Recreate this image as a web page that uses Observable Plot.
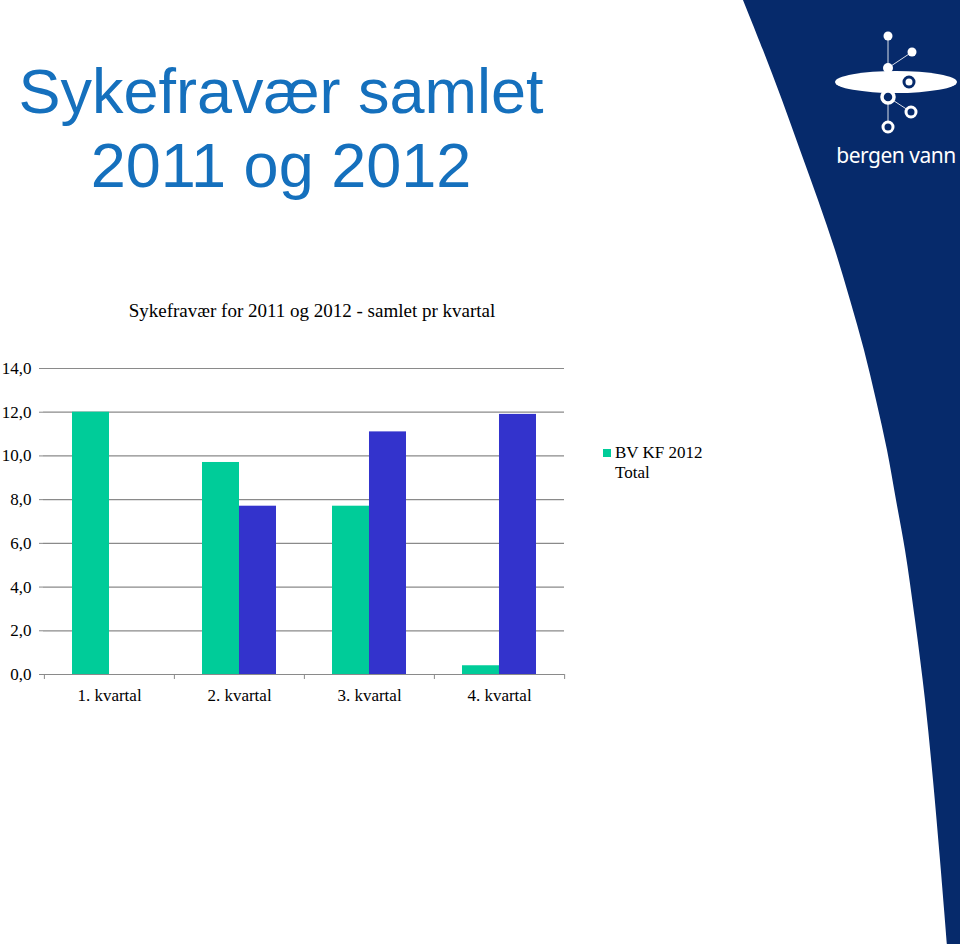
<!DOCTYPE html>
<html>
<head>
<meta charset="utf-8">
<script src="https://cdn.jsdelivr.net/npm/d3@7"></script>
<script src="https://cdn.jsdelivr.net/npm/@observablehq/plot@0.6"></script>
<style>
  html, body { margin: 0; padding: 0; background: #fff; }
  #page { position: relative; width: 960px; height: 944px; overflow: hidden; background: #fff; }
  #deco { position: absolute; left: 0; top: 0; z-index: 0; }
  #slideTitle { position: absolute; left: 0; top: 0; z-index: 2; }
  #chartTitle { position: absolute; left: 0; top: 300px; width: 624px; text-align: center;
    font-family: "Liberation Serif", "Times New Roman", serif; font-size: 19px; color: #000; z-index: 2; }
  #chart { position: absolute; left: 0; top: 320px; z-index: 1; }
  #legend { position: absolute; left: 603px; top: 443px; z-index: 2;
    font-family: "Liberation Serif", "Times New Roman", serif; font-size: 17px; line-height: 20px; color: #000; }
  #legend .sw { display: inline-block; width: 8px; height: 8px; margin-right: 4px; vertical-align: 1px; }
  #legend .l2 { padding-left: 12px; }
</style>
</head>
<body>
<div id="page">
  <svg id="deco" width="960" height="944">
    <path id="navy" fill="#062a6b"/>
    <g stroke="#ffffff" stroke-width="1" opacity="0.85">
      <line x1="888" y1="36" x2="888" y2="127"/>
      <line x1="888" y1="68" x2="912" y2="52"/>
      <line x1="888" y1="97" x2="911" y2="112"/>
    </g>
    <ellipse cx="896" cy="82" rx="61" ry="11" fill="#ffffff"/>
    <circle cx="888" cy="36" r="4.5" fill="#fff"/>
    <circle cx="912" cy="52" r="4.5" fill="#fff"/>
    <circle cx="888" cy="68" r="5" fill="#fff"/>
    <circle cx="909" cy="82" r="5" fill="none" stroke="#062a6b" stroke-width="3"/>
    <circle cx="888" cy="97" r="6" fill="#062a6b" stroke="#fff" stroke-width="3.5"/>
    <circle cx="911" cy="112" r="5" fill="#062a6b" stroke="#fff" stroke-width="3"/>
    <circle cx="888" cy="127" r="5" fill="#062a6b" stroke="#fff" stroke-width="3"/>
    <text x="896" y="163" text-anchor="middle" fill="#fff" font-family="'Noto Sans', 'DejaVu Sans', sans-serif" font-size="21" letter-spacing="-0.5">bergen vann</text>
  </svg>
  <svg id="slideTitle" width="600" height="210">
    <text x="281" y="113" text-anchor="middle" fill="#1570bd" font-family="'Liberation Sans', Arial, sans-serif" font-size="63">Sykefravær samlet</text>
    <text x="281" y="187" text-anchor="middle" fill="#1570bd" font-family="'Liberation Sans', Arial, sans-serif" font-size="63">2011 og 2012</text>
  </svg>
  <div id="chartTitle">Sykefravær for 2011 og 2012 - samlet pr kvartal</div>
  <div id="chart"></div>
  <div id="legend"></div>
</div>
<script>
// ---- data ----
const quarters = ["1. kvartal", "2. kvartal", "3. kvartal", "4. kvartal"];
const bvkf2012 = [12.0, 9.7, 7.7, 0.4];
const total = [null, 7.7, 11.1, 11.9];
const yTicks = [0, 2, 4, 6, 8, 10, 12, 14];
const legendLines = ["BV KF 2012", "Total"];
const colorGreen = "#00cc99";
const colorBlue = "#3333cc";

// ---- decoration: edge of the navy band on the right (page background, not data) ----
const navyEdge = [[743,0],[763,50],[782,100],[800,150],[818,200],[835,250],[850,300],[864,350],[876,400],[887,450],[896,500],[905,550],[915,620],[925,700],[933,780],[940,860],[947,944]];
const edgePath = d3.line().curve(d3.curveCatmullRom)(navyEdge);
document.getElementById("navy").setAttribute("d", edgePath + "L960,944L960,0Z");

// ---- layout ----
const W = 620, H = 400, mL = 43, mR = 56, mT = 48, mB = 46;
const step = (W - mL - mR) / quarters.length;
const padIn = 0.432;
const bw = step * (1 - padIn);
const grey = "#8a8a8a";
const serif = "Liberation Serif, Times New Roman, serif";

const rows = quarters.map((q, i) => ({quarter: q, green: bvkf2012[i], blue: total[i]}));
const fmt = d => d.toFixed(1).replace(".", ",");

const chart = Plot.plot({
  width: W, height: H,
  marginLeft: mL, marginRight: mR, marginTop: mT, marginBottom: mB,
  style: {background: "transparent", fontFamily: serif, fontSize: "17px", color: "#000"},
  x: {type: "band", domain: quarters, paddingInner: padIn, paddingOuter: padIn / 2, align: 0.5, label: null, axis: null},
  y: {domain: [0, 14], label: null, axis: null},
  marks: [
    Plot.gridY(yTicks, {stroke: grey, strokeOpacity: 1, strokeWidth: 1.2}),
    Plot.barY(rows.filter(d => d.green != null), {x: "quarter", y: "green", fill: colorGreen, insetRight: bw / 2}),
    Plot.barY(rows.filter(d => d.blue != null), {x: "quarter", y: "blue", fill: colorBlue, insetLeft: bw / 2}),
    Plot.axisY({ticks: yTicks, tickFormat: fmt, tickSize: 4, tickPadding: 8, stroke: grey, fill: "#000", fontSize: 17, line: true}),
    Plot.axisX({ticks: quarters, tickSize: 0, tickPadding: 14, fill: "#000", fontSize: 17}),
    Plot.axisX({ticks: quarters, tickSize: 5, tickFormat: () => "", stroke: grey, dx: -step / 2}),
    Plot.axisX({ticks: quarters.slice(-1), tickSize: 5, tickFormat: () => "", stroke: grey, dx: step / 2})
  ]
});
document.getElementById("chart").appendChild(chart);

const legend = document.getElementById("legend");
legend.innerHTML = `<div><span class="sw" style="background:${colorGreen}"></span>${legendLines[0]}</div><div class="l2">${legendLines[1]}</div>`;
</script>
</body>
</html>
